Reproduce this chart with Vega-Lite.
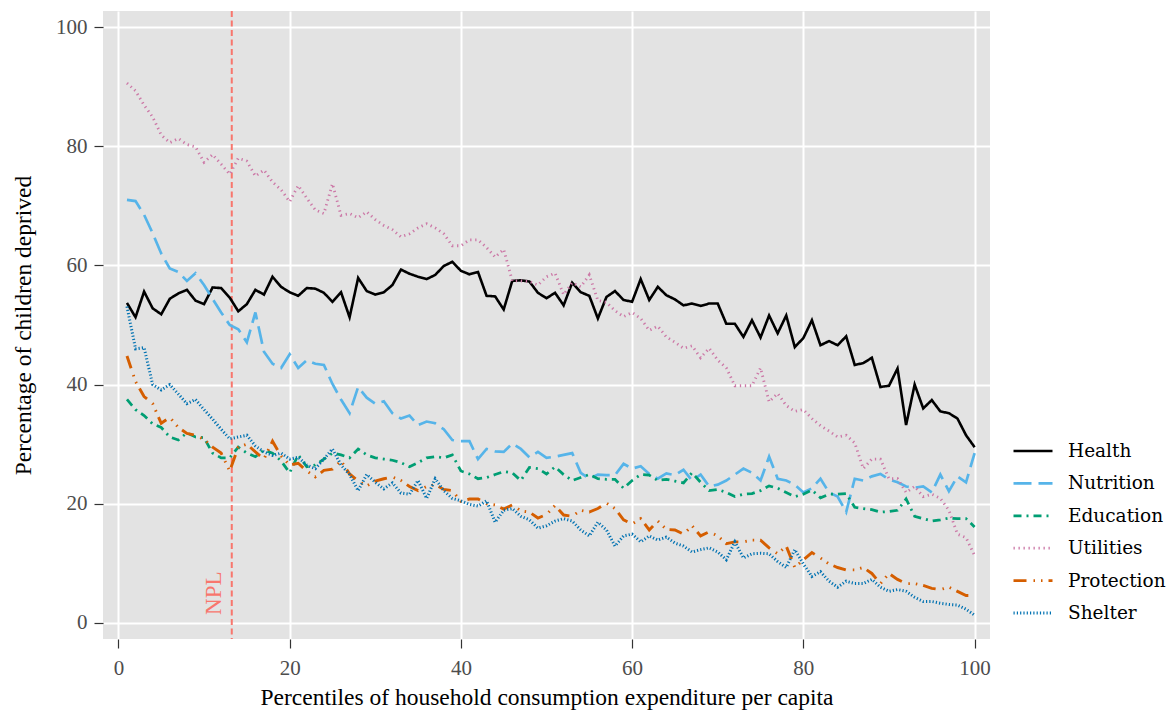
{
"$schema":"https://vega.github.io/schema/vega-lite/v6.json",
"width":887,"height":628,
"autosize":{"type":"none"},
"padding":{"left":103,"top":11,"right":182,"bottom":75},
"background":"white",
"config":{
"font":"Liberation Serif",
"view":{"fill":"#E3E3E3","stroke":null},
"axis":{"domain":false,"gridColor":"white","gridWidth":2,"tickColor":"#333333","tickSize":9,"tickWidth":1.2,"labelColor":"#4D4D4D","labelFont":"Liberation Serif","labelFontSize":21,"titleFont":"Liberation Serif","titleFontSize":23.5,"titleFontWeight":"normal","titleColor":"black"},
"legend":{"labelFontSize":18.5,"labelColor":"black","symbolType":"stroke","symbolSize":1521,"labelOffset":14,"padding":0,"rowPadding":1.4}
},
"datasets":{
"lines":[
{"pct":1,"series":"Health","value":53.7},{"pct":2,"series":"Health","value":51.3},{"pct":3,"series":"Health","value":55.6},{"pct":4,"series":"Health","value":52.8},{"pct":5,"series":"Health","value":51.8},{"pct":6,"series":"Health","value":54.4},{"pct":7,"series":"Health","value":55.3},{"pct":8,"series":"Health","value":55.9},{"pct":9,"series":"Health","value":54.1},{"pct":10,"series":"Health","value":53.5},
{"pct":11,"series":"Health","value":56.3},{"pct":12,"series":"Health","value":56.2},{"pct":13,"series":"Health","value":54.6},{"pct":14,"series":"Health","value":52.3},{"pct":15,"series":"Health","value":53.5},{"pct":16,"series":"Health","value":55.9},{"pct":17,"series":"Health","value":55.1},{"pct":18,"series":"Health","value":58.1},{"pct":19,"series":"Health","value":56.4},{"pct":20,"series":"Health","value":55.5},
{"pct":21,"series":"Health","value":54.9},{"pct":22,"series":"Health","value":56.2},{"pct":23,"series":"Health","value":56.1},{"pct":24,"series":"Health","value":55.4},{"pct":25,"series":"Health","value":53.9},{"pct":26,"series":"Health","value":55.5},{"pct":27,"series":"Health","value":51.3},{"pct":28,"series":"Health","value":57.9},{"pct":29,"series":"Health","value":55.7},{"pct":30,"series":"Health","value":55.1},
{"pct":31,"series":"Health","value":55.5},{"pct":32,"series":"Health","value":56.7},{"pct":33,"series":"Health","value":59.3},{"pct":34,"series":"Health","value":58.6},{"pct":35,"series":"Health","value":58.1},{"pct":36,"series":"Health","value":57.7},{"pct":37,"series":"Health","value":58.4},{"pct":38,"series":"Health","value":59.9},{"pct":39,"series":"Health","value":60.6},{"pct":40,"series":"Health","value":59.1},
{"pct":41,"series":"Health","value":58.5},{"pct":42,"series":"Health","value":58.9},{"pct":43,"series":"Health","value":54.9},{"pct":44,"series":"Health","value":54.8},{"pct":45,"series":"Health","value":52.6},{"pct":46,"series":"Health","value":57.4},{"pct":47,"series":"Health","value":57.5},{"pct":48,"series":"Health","value":57.3},{"pct":49,"series":"Health","value":55.4},{"pct":50,"series":"Health","value":54.5},
{"pct":51,"series":"Health","value":55.4},{"pct":52,"series":"Health","value":53.3},{"pct":53,"series":"Health","value":57.1},{"pct":54,"series":"Health","value":55.5},{"pct":55,"series":"Health","value":54.9},{"pct":56,"series":"Health","value":51.1},{"pct":57,"series":"Health","value":54.7},{"pct":58,"series":"Health","value":55.7},{"pct":59,"series":"Health","value":54.2},{"pct":60,"series":"Health","value":53.9},
{"pct":61,"series":"Health","value":57.7},{"pct":62,"series":"Health","value":54.2},{"pct":63,"series":"Health","value":56.4},{"pct":64,"series":"Health","value":55.0},{"pct":65,"series":"Health","value":54.3},{"pct":66,"series":"Health","value":53.3},{"pct":67,"series":"Health","value":53.6},{"pct":68,"series":"Health","value":53.2},{"pct":69,"series":"Health","value":53.6},{"pct":70,"series":"Health","value":53.6},
{"pct":71,"series":"Health","value":50.2},{"pct":72,"series":"Health","value":50.2},{"pct":73,"series":"Health","value":48.0},{"pct":74,"series":"Health","value":50.8},{"pct":75,"series":"Health","value":47.9},{"pct":76,"series":"Health","value":51.6},{"pct":77,"series":"Health","value":48.6},{"pct":78,"series":"Health","value":51.6},{"pct":79,"series":"Health","value":46.3},{"pct":80,"series":"Health","value":47.8},
{"pct":81,"series":"Health","value":50.8},{"pct":82,"series":"Health","value":46.6},{"pct":83,"series":"Health","value":47.3},{"pct":84,"series":"Health","value":46.6},{"pct":85,"series":"Health","value":48.1},{"pct":86,"series":"Health","value":43.3},{"pct":87,"series":"Health","value":43.6},{"pct":88,"series":"Health","value":44.5},{"pct":89,"series":"Health","value":39.6},{"pct":90,"series":"Health","value":39.8},
{"pct":91,"series":"Health","value":42.7},{"pct":92,"series":"Health","value":33.2},{"pct":93,"series":"Health","value":40.0},{"pct":94,"series":"Health","value":36.0},{"pct":95,"series":"Health","value":37.4},{"pct":96,"series":"Health","value":35.5},{"pct":97,"series":"Health","value":35.2},{"pct":98,"series":"Health","value":34.3},{"pct":99,"series":"Health","value":31.5},{"pct":100,"series":"Health","value":29.5},
{"pct":1,"series":"Nutrition","value":71.0},{"pct":2,"series":"Nutrition","value":70.8},{"pct":3,"series":"Nutrition","value":68.5},{"pct":4,"series":"Nutrition","value":65.4},{"pct":5,"series":"Nutrition","value":62.0},{"pct":6,"series":"Nutrition","value":59.5},{"pct":7,"series":"Nutrition","value":58.9},{"pct":8,"series":"Nutrition","value":57.4},{"pct":9,"series":"Nutrition","value":58.7},{"pct":10,"series":"Nutrition","value":56.7},
{"pct":11,"series":"Nutrition","value":54.4},{"pct":12,"series":"Nutrition","value":52.1},{"pct":13,"series":"Nutrition","value":50.0},{"pct":14,"series":"Nutrition","value":49.3},{"pct":15,"series":"Nutrition","value":47.1},{"pct":16,"series":"Nutrition","value":52.1},{"pct":17,"series":"Nutrition","value":45.5},{"pct":18,"series":"Nutrition","value":43.5},{"pct":19,"series":"Nutrition","value":42.8},{"pct":20,"series":"Nutrition","value":45.1},
{"pct":21,"series":"Nutrition","value":42.8},{"pct":22,"series":"Nutrition","value":44.1},{"pct":23,"series":"Nutrition","value":43.5},{"pct":24,"series":"Nutrition","value":43.3},{"pct":25,"series":"Nutrition","value":40.1},{"pct":26,"series":"Nutrition","value":37.5},{"pct":27,"series":"Nutrition","value":35.2},{"pct":28,"series":"Nutrition","value":39.6},{"pct":29,"series":"Nutrition","value":37.8},{"pct":30,"series":"Nutrition","value":36.8},
{"pct":31,"series":"Nutrition","value":37.2},{"pct":32,"series":"Nutrition","value":35.2},{"pct":33,"series":"Nutrition","value":34.3},{"pct":34,"series":"Nutrition","value":34.8},{"pct":35,"series":"Nutrition","value":33.2},{"pct":36,"series":"Nutrition","value":33.8},{"pct":37,"series":"Nutrition","value":33.5},{"pct":38,"series":"Nutrition","value":32.5},{"pct":39,"series":"Nutrition","value":30.7},{"pct":40,"series":"Nutrition","value":30.5},
{"pct":41,"series":"Nutrition","value":30.5},{"pct":42,"series":"Nutrition","value":27.5},{"pct":43,"series":"Nutrition","value":29.2},{"pct":44,"series":"Nutrition","value":28.8},{"pct":45,"series":"Nutrition","value":28.7},{"pct":46,"series":"Nutrition","value":30.1},{"pct":47,"series":"Nutrition","value":29.2},{"pct":48,"series":"Nutrition","value":27.8},{"pct":49,"series":"Nutrition","value":28.7},{"pct":50,"series":"Nutrition","value":27.7},
{"pct":51,"series":"Nutrition","value":27.9},{"pct":52,"series":"Nutrition","value":28.2},{"pct":53,"series":"Nutrition","value":28.5},{"pct":54,"series":"Nutrition","value":25.2},{"pct":55,"series":"Nutrition","value":24.2},{"pct":56,"series":"Nutrition","value":24.9},{"pct":57,"series":"Nutrition","value":24.8},{"pct":58,"series":"Nutrition","value":24.8},{"pct":59,"series":"Nutrition","value":26.7},{"pct":60,"series":"Nutrition","value":25.9},
{"pct":61,"series":"Nutrition","value":26.3},{"pct":62,"series":"Nutrition","value":25.0},{"pct":63,"series":"Nutrition","value":24.2},{"pct":64,"series":"Nutrition","value":25.1},{"pct":65,"series":"Nutrition","value":24.8},{"pct":66,"series":"Nutrition","value":25.7},{"pct":67,"series":"Nutrition","value":23.9},{"pct":68,"series":"Nutrition","value":24.9},{"pct":69,"series":"Nutrition","value":22.9},{"pct":70,"series":"Nutrition","value":23.2},
{"pct":71,"series":"Nutrition","value":23.9},{"pct":72,"series":"Nutrition","value":24.9},{"pct":73,"series":"Nutrition","value":25.9},{"pct":74,"series":"Nutrition","value":25.2},{"pct":75,"series":"Nutrition","value":23.9},{"pct":76,"series":"Nutrition","value":27.9},{"pct":77,"series":"Nutrition","value":24.2},{"pct":78,"series":"Nutrition","value":23.9},{"pct":79,"series":"Nutrition","value":23.2},{"pct":80,"series":"Nutrition","value":21.9},
{"pct":81,"series":"Nutrition","value":22.6},{"pct":82,"series":"Nutrition","value":24.2},{"pct":83,"series":"Nutrition","value":21.9},{"pct":84,"series":"Nutrition","value":21.2},{"pct":85,"series":"Nutrition","value":18.6},{"pct":86,"series":"Nutrition","value":24.2},{"pct":87,"series":"Nutrition","value":23.9},{"pct":88,"series":"Nutrition","value":24.6},{"pct":89,"series":"Nutrition","value":25.0},{"pct":90,"series":"Nutrition","value":24.1},
{"pct":91,"series":"Nutrition","value":23.6},{"pct":92,"series":"Nutrition","value":22.9},{"pct":93,"series":"Nutrition","value":22.7},{"pct":94,"series":"Nutrition","value":22.9},{"pct":95,"series":"Nutrition","value":21.9},{"pct":96,"series":"Nutrition","value":24.9},{"pct":97,"series":"Nutrition","value":22.1},{"pct":98,"series":"Nutrition","value":24.6},{"pct":99,"series":"Nutrition","value":23.6},{"pct":100,"series":"Nutrition","value":28.5},
{"pct":1,"series":"Education","value":37.5},{"pct":2,"series":"Education","value":35.8},{"pct":3,"series":"Education","value":34.8},{"pct":4,"series":"Education","value":33.4},{"pct":5,"series":"Education","value":32.8},{"pct":6,"series":"Education","value":31.2},{"pct":7,"series":"Education","value":30.7},{"pct":8,"series":"Education","value":31.9},{"pct":9,"series":"Education","value":31.2},{"pct":10,"series":"Education","value":31.1},
{"pct":11,"series":"Education","value":28.5},{"pct":12,"series":"Education","value":27.7},{"pct":13,"series":"Education","value":27.7},{"pct":14,"series":"Education","value":29.5},{"pct":15,"series":"Education","value":28.5},{"pct":16,"series":"Education","value":27.9},{"pct":17,"series":"Education","value":29.0},{"pct":18,"series":"Education","value":28.5},{"pct":19,"series":"Education","value":27.2},{"pct":20,"series":"Education","value":25.2},
{"pct":21,"series":"Education","value":28.2},{"pct":22,"series":"Education","value":26.2},{"pct":23,"series":"Education","value":26.5},{"pct":24,"series":"Education","value":27.5},{"pct":25,"series":"Education","value":28.5},{"pct":26,"series":"Education","value":28.2},{"pct":27,"series":"Education","value":27.7},{"pct":28,"series":"Education","value":29.2},{"pct":29,"series":"Education","value":28.2},{"pct":30,"series":"Education","value":27.7},
{"pct":31,"series":"Education","value":27.5},{"pct":32,"series":"Education","value":27.3},{"pct":33,"series":"Education","value":26.9},{"pct":34,"series":"Education","value":26.2},{"pct":35,"series":"Education","value":26.9},{"pct":36,"series":"Education","value":27.7},{"pct":37,"series":"Education","value":27.9},{"pct":38,"series":"Education","value":27.7},{"pct":39,"series":"Education","value":28.2},{"pct":40,"series":"Education","value":25.5},
{"pct":41,"series":"Education","value":25.0},{"pct":42,"series":"Education","value":24.2},{"pct":43,"series":"Education","value":24.4},{"pct":44,"series":"Education","value":24.9},{"pct":45,"series":"Education","value":25.4},{"pct":46,"series":"Education","value":25.2},{"pct":47,"series":"Education","value":23.9},{"pct":48,"series":"Education","value":26.1},{"pct":49,"series":"Education","value":25.9},{"pct":50,"series":"Education","value":25.0},
{"pct":51,"series":"Education","value":26.2},{"pct":52,"series":"Education","value":24.9},{"pct":53,"series":"Education","value":23.9},{"pct":54,"series":"Education","value":24.4},{"pct":55,"series":"Education","value":24.9},{"pct":56,"series":"Education","value":24.2},{"pct":57,"series":"Education","value":24.1},{"pct":58,"series":"Education","value":24.1},{"pct":59,"series":"Education","value":22.6},{"pct":60,"series":"Education","value":23.9},
{"pct":61,"series":"Education","value":24.9},{"pct":62,"series":"Education","value":24.8},{"pct":63,"series":"Education","value":23.9},{"pct":64,"series":"Education","value":24.1},{"pct":65,"series":"Education","value":23.8},{"pct":66,"series":"Education","value":23.5},{"pct":67,"series":"Education","value":25.2},{"pct":68,"series":"Education","value":23.6},{"pct":69,"series":"Education","value":22.2},{"pct":70,"series":"Education","value":22.4},
{"pct":71,"series":"Education","value":21.9},{"pct":72,"series":"Education","value":21.2},{"pct":73,"series":"Education","value":21.6},{"pct":74,"series":"Education","value":21.7},{"pct":75,"series":"Education","value":22.2},{"pct":76,"series":"Education","value":23.0},{"pct":77,"series":"Education","value":22.6},{"pct":78,"series":"Education","value":21.9},{"pct":79,"series":"Education","value":21.2},{"pct":80,"series":"Education","value":21.6},
{"pct":81,"series":"Education","value":22.3},{"pct":82,"series":"Education","value":21.0},{"pct":83,"series":"Education","value":21.6},{"pct":84,"series":"Education","value":21.6},{"pct":85,"series":"Education","value":21.7},{"pct":86,"series":"Education","value":19.4},{"pct":87,"series":"Education","value":19.2},{"pct":88,"series":"Education","value":19.0},{"pct":89,"series":"Education","value":18.6},{"pct":90,"series":"Education","value":18.7},
{"pct":91,"series":"Education","value":18.9},{"pct":92,"series":"Education","value":20.8},{"pct":93,"series":"Education","value":17.9},{"pct":94,"series":"Education","value":17.5},{"pct":95,"series":"Education","value":17.1},{"pct":96,"series":"Education","value":17.3},{"pct":97,"series":"Education","value":17.6},{"pct":98,"series":"Education","value":17.5},{"pct":99,"series":"Education","value":17.5},{"pct":100,"series":"Education","value":16.1},
{"pct":1,"series":"Utilities","value":90.6},{"pct":2,"series":"Utilities","value":89.3},{"pct":3,"series":"Utilities","value":86.9},{"pct":4,"series":"Utilities","value":84.9},{"pct":5,"series":"Utilities","value":81.9},{"pct":6,"series":"Utilities","value":80.6},{"pct":7,"series":"Utilities","value":81.3},{"pct":8,"series":"Utilities","value":80.3},{"pct":9,"series":"Utilities","value":79.9},{"pct":10,"series":"Utilities","value":77.3},
{"pct":11,"series":"Utilities","value":78.6},{"pct":12,"series":"Utilities","value":77.0},{"pct":13,"series":"Utilities","value":75.3},{"pct":14,"series":"Utilities","value":78.0},{"pct":15,"series":"Utilities","value":77.5},{"pct":16,"series":"Utilities","value":75.0},{"pct":17,"series":"Utilities","value":76.0},{"pct":18,"series":"Utilities","value":74.0},{"pct":19,"series":"Utilities","value":72.7},{"pct":20,"series":"Utilities","value":70.7},
{"pct":21,"series":"Utilities","value":73.4},{"pct":22,"series":"Utilities","value":71.3},{"pct":23,"series":"Utilities","value":69.3},{"pct":24,"series":"Utilities","value":68.7},{"pct":25,"series":"Utilities","value":73.7},{"pct":26,"series":"Utilities","value":68.4},{"pct":27,"series":"Utilities","value":68.7},{"pct":28,"series":"Utilities","value":68.0},{"pct":29,"series":"Utilities","value":69.0},{"pct":30,"series":"Utilities","value":67.7},
{"pct":31,"series":"Utilities","value":66.7},{"pct":32,"series":"Utilities","value":66.0},{"pct":33,"series":"Utilities","value":64.8},{"pct":34,"series":"Utilities","value":65.3},{"pct":35,"series":"Utilities","value":66.3},{"pct":36,"series":"Utilities","value":67.0},{"pct":37,"series":"Utilities","value":66.3},{"pct":38,"series":"Utilities","value":65.3},{"pct":39,"series":"Utilities","value":63.3},{"pct":40,"series":"Utilities","value":63.3},
{"pct":41,"series":"Utilities","value":64.3},{"pct":42,"series":"Utilities","value":64.3},{"pct":43,"series":"Utilities","value":63.0},{"pct":44,"series":"Utilities","value":61.4},{"pct":45,"series":"Utilities","value":62.7},{"pct":46,"series":"Utilities","value":57.4},{"pct":47,"series":"Utilities","value":57.4},{"pct":48,"series":"Utilities","value":57.3},{"pct":49,"series":"Utilities","value":56.7},{"pct":50,"series":"Utilities","value":58.1},
{"pct":51,"series":"Utilities","value":58.7},{"pct":52,"series":"Utilities","value":55.1},{"pct":53,"series":"Utilities","value":57.1},{"pct":54,"series":"Utilities","value":56.4},{"pct":55,"series":"Utilities","value":58.4},{"pct":56,"series":"Utilities","value":54.1},{"pct":57,"series":"Utilities","value":53.8},{"pct":58,"series":"Utilities","value":52.4},{"pct":59,"series":"Utilities","value":51.4},{"pct":60,"series":"Utilities","value":52.1},
{"pct":61,"series":"Utilities","value":51.1},{"pct":62,"series":"Utilities","value":49.1},{"pct":63,"series":"Utilities","value":49.8},{"pct":64,"series":"Utilities","value":48.0},{"pct":65,"series":"Utilities","value":47.1},{"pct":66,"series":"Utilities","value":46.1},{"pct":67,"series":"Utilities","value":46.5},{"pct":68,"series":"Utilities","value":44.5},{"pct":69,"series":"Utilities","value":46.1},{"pct":70,"series":"Utilities","value":44.1},
{"pct":71,"series":"Utilities","value":42.8},{"pct":72,"series":"Utilities","value":39.8},{"pct":73,"series":"Utilities","value":39.8},{"pct":74,"series":"Utilities","value":39.8},{"pct":75,"series":"Utilities","value":42.8},{"pct":76,"series":"Utilities","value":37.1},{"pct":77,"series":"Utilities","value":38.5},{"pct":78,"series":"Utilities","value":36.5},{"pct":79,"series":"Utilities","value":35.5},{"pct":80,"series":"Utilities","value":35.8},
{"pct":81,"series":"Utilities","value":34.3},{"pct":82,"series":"Utilities","value":33.1},{"pct":83,"series":"Utilities","value":32.2},{"pct":84,"series":"Utilities","value":31.2},{"pct":85,"series":"Utilities","value":31.5},{"pct":86,"series":"Utilities","value":30.2},{"pct":87,"series":"Utilities","value":25.9},{"pct":88,"series":"Utilities","value":27.5},{"pct":89,"series":"Utilities","value":27.5},{"pct":90,"series":"Utilities","value":24.2},
{"pct":91,"series":"Utilities","value":24.2},{"pct":92,"series":"Utilities","value":21.9},{"pct":93,"series":"Utilities","value":22.9},{"pct":94,"series":"Utilities","value":21.2},{"pct":95,"series":"Utilities","value":21.6},{"pct":96,"series":"Utilities","value":20.9},{"pct":97,"series":"Utilities","value":18.9},{"pct":98,"series":"Utilities","value":14.9},{"pct":99,"series":"Utilities","value":14.3},{"pct":100,"series":"Utilities","value":11.3},
{"pct":1,"series":"Protection","value":44.8},{"pct":2,"series":"Protection","value":40.5},{"pct":3,"series":"Protection","value":38.0},{"pct":4,"series":"Protection","value":36.8},{"pct":5,"series":"Protection","value":33.5},{"pct":6,"series":"Protection","value":34.5},{"pct":7,"series":"Protection","value":32.8},{"pct":8,"series":"Protection","value":31.8},{"pct":9,"series":"Protection","value":31.5},{"pct":10,"series":"Protection","value":30.8},
{"pct":11,"series":"Protection","value":29.5},{"pct":12,"series":"Protection","value":28.5},{"pct":13,"series":"Protection","value":25.5},{"pct":14,"series":"Protection","value":29.5},{"pct":15,"series":"Protection","value":30.0},{"pct":16,"series":"Protection","value":28.7},{"pct":17,"series":"Protection","value":27.5},{"pct":18,"series":"Protection","value":30.5},{"pct":19,"series":"Protection","value":28.0},{"pct":20,"series":"Protection","value":26.5},
{"pct":21,"series":"Protection","value":26.8},{"pct":22,"series":"Protection","value":25.5},{"pct":23,"series":"Protection","value":24.5},{"pct":24,"series":"Protection","value":25.6},{"pct":25,"series":"Protection","value":25.8},{"pct":26,"series":"Protection","value":27.2},{"pct":27,"series":"Protection","value":25.0},{"pct":28,"series":"Protection","value":23.8},{"pct":29,"series":"Protection","value":23.0},{"pct":30,"series":"Protection","value":23.8},
{"pct":31,"series":"Protection","value":24.2},{"pct":32,"series":"Protection","value":24.5},{"pct":33,"series":"Protection","value":23.9},{"pct":34,"series":"Protection","value":22.9},{"pct":35,"series":"Protection","value":22.2},{"pct":36,"series":"Protection","value":22.9},{"pct":37,"series":"Protection","value":23.2},{"pct":38,"series":"Protection","value":22.4},{"pct":39,"series":"Protection","value":22.2},{"pct":40,"series":"Protection","value":20.4},
{"pct":41,"series":"Protection","value":20.8},{"pct":42,"series":"Protection","value":20.8},{"pct":43,"series":"Protection","value":20.0},{"pct":44,"series":"Protection","value":19.8},{"pct":45,"series":"Protection","value":19.1},{"pct":46,"series":"Protection","value":19.8},{"pct":47,"series":"Protection","value":18.8},{"pct":48,"series":"Protection","value":18.6},{"pct":49,"series":"Protection","value":17.6},{"pct":50,"series":"Protection","value":18.2},
{"pct":51,"series":"Protection","value":19.7},{"pct":52,"series":"Protection","value":18.1},{"pct":53,"series":"Protection","value":17.9},{"pct":54,"series":"Protection","value":18.9},{"pct":55,"series":"Protection","value":18.6},{"pct":56,"series":"Protection","value":19.2},{"pct":57,"series":"Protection","value":20.1},{"pct":58,"series":"Protection","value":19.2},{"pct":59,"series":"Protection","value":17.3},{"pct":60,"series":"Protection","value":16.6},
{"pct":61,"series":"Protection","value":17.5},{"pct":62,"series":"Protection","value":15.6},{"pct":63,"series":"Protection","value":17.1},{"pct":64,"series":"Protection","value":15.7},{"pct":65,"series":"Protection","value":15.6},{"pct":66,"series":"Protection","value":14.9},{"pct":67,"series":"Protection","value":16.3},{"pct":68,"series":"Protection","value":14.6},{"pct":69,"series":"Protection","value":15.3},{"pct":70,"series":"Protection","value":14.6},
{"pct":71,"series":"Protection","value":13.3},{"pct":72,"series":"Protection","value":13.6},{"pct":73,"series":"Protection","value":13.6},{"pct":74,"series":"Protection","value":13.9},{"pct":75,"series":"Protection","value":13.9},{"pct":76,"series":"Protection","value":12.6},{"pct":77,"series":"Protection","value":11.6},{"pct":78,"series":"Protection","value":12.9},{"pct":79,"series":"Protection","value":9.3},{"pct":80,"series":"Protection","value":10.6},
{"pct":81,"series":"Protection","value":11.8},{"pct":82,"series":"Protection","value":10.9},{"pct":83,"series":"Protection","value":9.9},{"pct":84,"series":"Protection","value":9.3},{"pct":85,"series":"Protection","value":8.9},{"pct":86,"series":"Protection","value":8.9},{"pct":87,"series":"Protection","value":9.3},{"pct":88,"series":"Protection","value":8.3},{"pct":89,"series":"Protection","value":6.6},{"pct":90,"series":"Protection","value":8.3},
{"pct":91,"series":"Protection","value":7.3},{"pct":92,"series":"Protection","value":6.6},{"pct":93,"series":"Protection","value":6.6},{"pct":94,"series":"Protection","value":6.3},{"pct":95,"series":"Protection","value":5.8},{"pct":96,"series":"Protection","value":5.6},{"pct":97,"series":"Protection","value":6.0},{"pct":98,"series":"Protection","value":5.3},{"pct":99,"series":"Protection","value":4.6},{"pct":100,"series":"Protection","value":4.6},
{"pct":1,"series":"Shelter","value":53.1},{"pct":2,"series":"Shelter","value":46.0},{"pct":3,"series":"Shelter","value":46.2},{"pct":4,"series":"Shelter","value":40.0},{"pct":5,"series":"Shelter","value":39.1},{"pct":6,"series":"Shelter","value":40.0},{"pct":7,"series":"Shelter","value":38.4},{"pct":8,"series":"Shelter","value":36.8},{"pct":9,"series":"Shelter","value":37.5},{"pct":10,"series":"Shelter","value":35.8},
{"pct":11,"series":"Shelter","value":34.2},{"pct":12,"series":"Shelter","value":32.5},{"pct":13,"series":"Shelter","value":30.9},{"pct":14,"series":"Shelter","value":31.2},{"pct":15,"series":"Shelter","value":31.5},{"pct":16,"series":"Shelter","value":29.7},{"pct":17,"series":"Shelter","value":28.7},{"pct":18,"series":"Shelter","value":28.1},{"pct":19,"series":"Shelter","value":28.5},{"pct":20,"series":"Shelter","value":27.5},
{"pct":21,"series":"Shelter","value":27.8},{"pct":22,"series":"Shelter","value":26.5},{"pct":23,"series":"Shelter","value":25.9},{"pct":24,"series":"Shelter","value":27.5},{"pct":25,"series":"Shelter","value":29.2},{"pct":26,"series":"Shelter","value":26.5},{"pct":27,"series":"Shelter","value":24.9},{"pct":28,"series":"Shelter","value":22.2},{"pct":29,"series":"Shelter","value":24.9},{"pct":30,"series":"Shelter","value":23.6},
{"pct":31,"series":"Shelter","value":22.5},{"pct":32,"series":"Shelter","value":23.5},{"pct":33,"series":"Shelter","value":21.8},{"pct":34,"series":"Shelter","value":21.6},{"pct":35,"series":"Shelter","value":23.9},{"pct":36,"series":"Shelter","value":20.9},{"pct":37,"series":"Shelter","value":24.2},{"pct":38,"series":"Shelter","value":22.2},{"pct":39,"series":"Shelter","value":20.9},{"pct":40,"series":"Shelter","value":20.5},
{"pct":41,"series":"Shelter","value":19.9},{"pct":42,"series":"Shelter","value":19.6},{"pct":43,"series":"Shelter","value":20.5},{"pct":44,"series":"Shelter","value":16.9},{"pct":45,"series":"Shelter","value":18.9},{"pct":46,"series":"Shelter","value":19.2},{"pct":47,"series":"Shelter","value":17.9},{"pct":48,"series":"Shelter","value":17.3},{"pct":49,"series":"Shelter","value":15.9},{"pct":50,"series":"Shelter","value":16.3},
{"pct":51,"series":"Shelter","value":17.1},{"pct":52,"series":"Shelter","value":17.5},{"pct":53,"series":"Shelter","value":17.1},{"pct":54,"series":"Shelter","value":15.6},{"pct":55,"series":"Shelter","value":14.6},{"pct":56,"series":"Shelter","value":16.9},{"pct":57,"series":"Shelter","value":15.6},{"pct":58,"series":"Shelter","value":12.9},{"pct":59,"series":"Shelter","value":14.6},{"pct":60,"series":"Shelter","value":14.9},
{"pct":61,"series":"Shelter","value":13.6},{"pct":62,"series":"Shelter","value":14.6},{"pct":63,"series":"Shelter","value":13.9},{"pct":64,"series":"Shelter","value":14.4},{"pct":65,"series":"Shelter","value":13.4},{"pct":66,"series":"Shelter","value":12.9},{"pct":67,"series":"Shelter","value":11.9},{"pct":68,"series":"Shelter","value":12.3},{"pct":69,"series":"Shelter","value":12.6},{"pct":70,"series":"Shelter","value":11.9},
{"pct":71,"series":"Shelter","value":10.6},{"pct":72,"series":"Shelter","value":13.6},{"pct":73,"series":"Shelter","value":10.9},{"pct":74,"series":"Shelter","value":11.6},{"pct":75,"series":"Shelter","value":11.7},{"pct":76,"series":"Shelter","value":11.6},{"pct":77,"series":"Shelter","value":10.3},{"pct":78,"series":"Shelter","value":9.3},{"pct":79,"series":"Shelter","value":12.3},{"pct":80,"series":"Shelter","value":9.9},
{"pct":81,"series":"Shelter","value":7.8},{"pct":82,"series":"Shelter","value":8.6},{"pct":83,"series":"Shelter","value":7.0},{"pct":84,"series":"Shelter","value":6.0},{"pct":85,"series":"Shelter","value":7.0},{"pct":86,"series":"Shelter","value":6.6},{"pct":87,"series":"Shelter","value":6.6},{"pct":88,"series":"Shelter","value":7.3},{"pct":89,"series":"Shelter","value":6.0},{"pct":90,"series":"Shelter","value":5.3},
{"pct":91,"series":"Shelter","value":5.6},{"pct":92,"series":"Shelter","value":5.3},{"pct":93,"series":"Shelter","value":4.3},{"pct":94,"series":"Shelter","value":3.6},{"pct":95,"series":"Shelter","value":3.6},{"pct":96,"series":"Shelter","value":3.3},{"pct":97,"series":"Shelter","value":3.1},{"pct":98,"series":"Shelter","value":3.0},{"pct":99,"series":"Shelter","value":2.3},{"pct":100,"series":"Shelter","value":1.3}
],
"npl":[{"pct":13.24,"value":1.34,"label":"NPL","labelPct":11.97}]
},
"layer":[
{"data":{"name":"npl"},"mark":{"type":"rule","color":"#F8766D","strokeWidth":2,"strokeDash":[6,3.5]},"encoding":{"x":{"field":"pct","type":"quantitative"}}},
{"data":{"name":"lines"},"mark":{"type":"line","strokeCap":"butt"},
"encoding":{
"x":{"field":"pct","type":"quantitative","scale":{"domain":[-1.8,101.8],"nice":false,"zero":false},"axis":{"values":[0,20,40,60,80,100],"title":"Percentiles of household consumption expenditure per capita","labelPadding":9,"titlePadding":7}},
"y":{"field":"value","type":"quantitative","scale":{"domain":[-2.7,102.7],"nice":false,"zero":false},"axis":{"values":[0,20,40,60,80,100],"title":"Percentage of children deprived","labelPadding":7,"titlePadding":20}},
"color":{"field":"series","type":"nominal","scale":{"domain":["Health","Nutrition","Education","Utilities","Protection","Shelter"],"range":["#000000","#56B4E9","#009E73","#CC79A7","#D55E00","#0072B2"]},"legend":{"title":null,"orient":"none","legendX":909,"legendY":419,"labelFont":"DejaVu Serif","labelFontSize":18.5,"labelOffset":14,"rowPadding":1.4,"labelColor":"black","symbolStrokeWidth":2.6}},
"strokeDash":{"field":"series","type":"nominal","scale":{"domain":["Health","Nutrition","Education","Utilities","Protection","Shelter"],"range":[[1,0],[18,7],[8,5,2,5],[1.3,3.7],[13,7,1.5,6,1.5,6],[1.2,2.1]]},"legend":{"title":null,"orient":"none","legendX":909,"legendY":419,"labelFont":"DejaVu Serif","labelFontSize":18.5,"labelOffset":14,"rowPadding":1.4,"labelColor":"black","symbolStrokeWidth":2.6}},
"strokeWidth":{"field":"series","type":"nominal","scale":{"domain":["Health","Nutrition","Education","Utilities","Protection","Shelter"],"range":[2.6,3,2.6,1.2,2.6,1.6]},"legend":null}
}},
{"data":{"name":"npl"},"mark":{"type":"text","angle":270,"align":"left","baseline":"alphabetic","fontSize":23,"color":"#F8766D","font":"Liberation Serif"},"encoding":{"x":{"field":"labelPct","type":"quantitative"},"y":{"field":"value","type":"quantitative"},"text":{"field":"label"}}}
]
}
